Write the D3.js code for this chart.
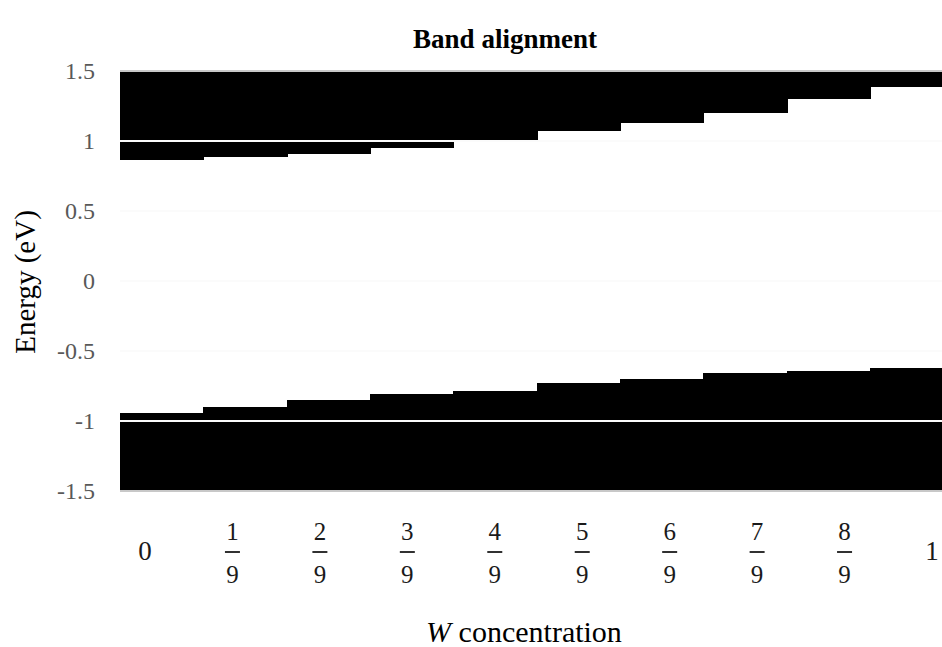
<!DOCTYPE html>
<html>
<head>
<meta charset="utf-8">
<script src="https://cdn.jsdelivr.net/npm/d3@7"></script>
<style>
  html, body { margin: 0; padding: 0; background: #fff; }
  svg { display: block; }
  text { font-family: "Liberation Serif", "DejaVu Serif", serif; }
</style>
</head>
<body>
<svg id="chart" width="942" height="647"></svg>
<script>
// ---- data ----
const categories = ["0", "1/9", "2/9", "3/9", "4/9", "5/9", "6/9", "7/9", "8/9", "1"];
// conduction band minimum (bottom edge of upper black block), eV
const cbm = [0.864, 0.884, 0.907, 0.948, 1.0, 1.074, 1.126, 1.202, 1.302, 1.384];
// valence band maximum (top edge of lower black block), eV
const vbm = [-0.945, -0.898, -0.850, -0.807, -0.784, -0.726, -0.698, -0.660, -0.643, -0.624];
const yTicks = [-1.5, -1, -0.5, 0, 0.5, 1, 1.5];
const yTickLabels = ["-1.5", "-1", "-0.5", "0", "0.5", "1", "1.5"];
const yDomain = [-1.5, 1.5];
const title = "Band alignment";
const yTitle = "Energy (eV)";
const xTitleItalic = "W";
const xTitleRest = " concentration";

// ---- layout ----
const W = 942, H = 647;
const plot = { left: 120, right: 953.3, top: 71, bottom: 491 };

const svg = d3.select("#chart");

const x = d3.scaleBand().domain(categories).range([plot.left, plot.right]).paddingInner(0).paddingOuter(0);
const y = d3.scaleLinear().domain(yDomain).range([plot.bottom, plot.top]);
// the category labels sit on their own evenly spaced grid in the original
const xl = d3.scalePoint().domain(categories).range([145, 932]);

// bars
const g = svg.append("g").attr("shape-rendering", "crispEdges");
g.selectAll("rect.cb").data(categories).join("rect")
  .attr("class", "cb")
  .attr("x", d => x(d))
  .attr("width", x.bandwidth() + 1)
  .attr("y", y(yDomain[1]))
  .attr("height", (d, i) => y(cbm[i]) - y(yDomain[1]))
  .attr("fill", "#000");
g.selectAll("rect.vb").data(categories).join("rect")
  .attr("class", "vb")
  .attr("x", d => x(d))
  .attr("width", x.bandwidth() + 1)
  .attr("y", (d, i) => y(vbm[i]))
  .attr("height", (d, i) => y(yDomain[0]) - y(vbm[i]))
  .attr("fill", "#000");

// gridlines (drawn over the bars; white inside, grey at the plot edges)
svg.append("g").selectAll("line").data(yTicks).join("line")
  .attr("x1", plot.left).attr("x2", plot.right)
  .attr("y1", d => y(d)).attr("y2", d => y(d))
  .attr("stroke", d => (d === yDomain[0] || d === yDomain[1]) ? "#c8c8c8" : "#fbfbfb")
  .attr("stroke-width", 2);

// y tick labels
svg.append("g").selectAll("text").data(yTicks).join("text")
  .attr("x", 95).attr("y", d => y(d))
  .attr("dy", "0.35em")
  .attr("text-anchor", "end")
  .attr("fill", "#595959")
  .style("font-size", "24px")
  .text((d, i) => yTickLabels[i]);

// x category labels (fractions)
const lab = svg.append("g").selectAll("g").data(categories).join("g")
  .attr("transform", d => `translate(${xl(d)},0)`);
lab.each(function(d) {
  const s = d3.select(this);
  const parts = d.split("/");
  if (parts.length === 1) {
    s.append("text").attr("y", 560).attr("text-anchor", "middle")
      .attr("fill", "#1a1a1a").style("font-size", "27px").text(d);
  } else {
    s.append("text").attr("y", 540).attr("text-anchor", "middle")
      .attr("fill", "#1a1a1a").style("font-size", "25px").text(parts[0]);
    s.append("line").attr("x1", -7.5).attr("x2", 7.5).attr("y1", 552).attr("y2", 552)
      .attr("stroke", "#1a1a1a").attr("stroke-width", 1.8);
    s.append("text").attr("y", 583).attr("text-anchor", "middle")
      .attr("fill", "#1a1a1a").style("font-size", "25px").text(parts[1]);
  }
});

// title
svg.append("text").attr("x", 505).attr("y", 48)
  .attr("text-anchor", "middle").attr("fill", "#000")
  .style("font-size", "27px").style("font-weight", "bold")
  .text(title);

// y axis title
svg.append("text")
  .attr("transform", `translate(35,282) rotate(-90)`)
  .attr("text-anchor", "middle").attr("fill", "#000")
  .style("font-size", "29px")
  .text(yTitle);

// x axis title
const xt = svg.append("text").attr("x", 524).attr("y", 642)
  .attr("text-anchor", "middle").attr("fill", "#000")
  .style("font-size", "30px");
xt.append("tspan").style("font-style", "italic").text(xTitleItalic);
xt.append("tspan").text(xTitleRest);
</script>
</body>
</html>
